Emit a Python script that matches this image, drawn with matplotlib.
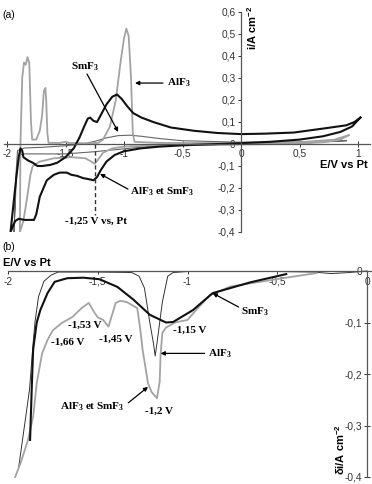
import numpy as np
import matplotlib.pyplot as plt

plt.rcParams['mathtext.fontset'] = 'custom'
plt.rcParams['mathtext.rm'] = 'Liberation Serif:bold'
plt.rcParams['mathtext.sf'] = 'Liberation Sans:bold'

# ---------------- panel (a): cyclic voltammograms ----------------
# AlF3 alone (light grey)
alf3_E = [0.92, 0.85, 0.7, 0.4, 0.0, -0.5, -0.8, -1.0, -1.1, -1.18, -1.22, -1.25, -1.28, -1.33,
          -1.45, -1.6, -1.72, -1.78, -1.8, -1.83, -1.86, -1.89,
          -1.885, -1.87, -1.855, -1.84, -1.825, -1.81, -1.795, -1.785, -1.75, -1.72, -1.70,
          -1.685, -1.672, -1.665, -1.655, -1.645, -1.63, -1.55, -1.5, -1.47, -1.3, -1.22,
          -1.18, -1.12, -1.07, -1.03, -1.0, -0.98, -0.96, -0.94, -0.925, -0.91, -0.7, 0.0,
          0.5, 0.8, 0.92]
alf3_i = [0.04, 0.02, 0.008, 0.0, -0.002, -0.004, -0.008, -0.012, -0.02, -0.04, -0.07, -0.09,
          -0.08, -0.065, -0.06, -0.065, -0.08, -0.10, -0.14, -0.25, -0.35, -0.4,
          0.0, 0.3, 0.37, 0.36, 0.395, 0.37, 0.1, 0.02, 0.02, 0.06, 0.13,
          0.24, 0.255, 0.2, 0.05, 0.005, 0.005, 0.005, 0.01, 0.005, 0.003, 0.005,
          0.02, 0.08, 0.2, 0.37, 0.48, 0.525, 0.49, 0.3, 0.05, 0.01, 0.005, 0.004,
          0.008, 0.02, 0.04]

# SmF3 alone (thin dark grey)
smf3_E = [0.9, 0.5, 0.0, -0.5, -0.8, -1.0, -1.25, -1.5, -1.7, -1.85, -1.9, -1.92, -1.94,
          -1.925, -1.91, -1.85, -1.7, -1.5, -1.35, -1.25, -1.15, -1.05, -0.95, -0.85, -0.7,
          -0.5, 0.0, 0.5, 0.9]
smf3_i = [0.015, 0.003, -0.002, -0.006, -0.012, -0.022, -0.035, -0.045, -0.045, -0.045, -0.05,
          -0.15, -0.4, -0.15, -0.03, -0.018, -0.015, -0.008, 0.0, 0.012, 0.028, 0.038, 0.04,
          0.035, 0.025, 0.015, 0.008, 0.01, 0.015]

# AlF3 + SmF3 (thick black)
mix_E = [1.02, 0.95, 0.85, 0.7, 0.5, 0.25, 0.0, -0.3, -0.5, -0.7, -0.86, -1.0, -1.08, -1.15,
         -1.2, -1.23, -1.26, -1.3, -1.35, -1.4, -1.45, -1.49, -1.55, -1.6, -1.66, -1.72,
         -1.75, -1.77, -1.85, -1.9, -1.93, -1.97,
         -1.95, -1.92, -1.9, -1.885, -1.87, -1.86, -1.82, -1.78, -1.74, -1.7, -1.63, -1.57,
         -1.5, -1.43, -1.38, -1.34, -1.31, -1.29, -1.26, -1.23, -1.2, -1.15, -1.1, -1.06,
         -1.02, -0.97, -0.92, -0.85, -0.75, -0.6, -0.4, -0.2, 0.0, 0.2, 0.45, 0.7, 0.9,
         0.97, 1.02]
mix_i = [0.12, 0.08, 0.055, 0.035, 0.02, 0.01, 0.004, -0.002, -0.006, -0.012, -0.02, -0.033,
         -0.05, -0.08, -0.12, -0.15, -0.165, -0.16, -0.155, -0.145, -0.14, -0.13, -0.13,
         -0.14, -0.165, -0.24, -0.32, -0.345, -0.345, -0.34, -0.35, -0.4,
         -0.3, -0.15, -0.06, -0.02, -0.03, -0.06, -0.075, -0.085, -0.1, -0.1, -0.095,
         -0.085, -0.06, -0.02, 0.03, 0.08, 0.115, 0.12, 0.105, 0.10, 0.13, 0.18, 0.215,
         0.225, 0.205, 0.17, 0.14, 0.12, 0.1, 0.075, 0.06, 0.05, 0.045, 0.047, 0.052, 0.07,
         0.085, 0.1, 0.12]

# ---------------- panel (b): derivative curves ----------------
b_alf3_E = [0.0, -0.1, -0.2, -0.3, -0.5, -0.8, -1.0, -1.08, -1.11, -1.14, -1.17, -1.18, -1.19,
            -1.21, -1.24, -1.27, -1.31, -1.5, -1.72, -1.76, -1.8, -1.83, -1.85, -1.86, -1.88,
            -1.92, -1.94]
b_alf3_i = [0.0, -0.003, -0.005, -0.002, -0.001, -0.001, -0.001, -0.003, -0.01, -0.06, -0.14,
            -0.165, -0.14, -0.1, -0.033, -0.01, -0.003, -0.002, -0.002, -0.008, -0.02, -0.05,
            -0.1, -0.14, -0.23, -0.33, -0.38]

b_smf3_E = [-0.45, -0.65, -0.86, -0.97, -1.08, -1.12, -1.21, -1.30, -1.39, -1.49, -1.58, -1.67,
            -1.74, -1.78, -1.82, -1.84, -1.86, -1.867, -1.877]
b_smf3_i = [-0.006, -0.022, -0.043, -0.076, -0.099, -0.1, -0.085, -0.056, -0.031, -0.016,
            -0.013, -0.014, -0.021, -0.043, -0.076, -0.1, -0.153, -0.22, -0.328]

b_mix_E = [-0.28, -0.47, -0.65, -0.76, -0.875, -0.95, -1.0, -1.07, -1.12, -1.14, -1.15, -1.155,
           -1.17, -1.2, -1.22, -1.25, -1.265, -1.28, -1.34, -1.375, -1.40, -1.44, -1.47, -1.50,
           -1.52, -1.55, -1.59, -1.64, -1.70, -1.75, -1.78, -1.81, -1.84, -1.86, -1.89, -1.93,
           -1.96]
b_mix_i = [-0.004, -0.014, -0.024, -0.03, -0.047, -0.075, -0.095, -0.1, -0.11, -0.12, -0.163,
           -0.215, -0.247, -0.235, -0.218, -0.153, -0.108, -0.072, -0.06, -0.058, -0.062,
           -0.108, -0.095, -0.09, -0.08, -0.062, -0.072, -0.089, -0.101, -0.115, -0.134,
           -0.16, -0.218, -0.283, -0.33, -0.373, -0.4]

a_xticks = [-2, -1.5, -1, -0.5, 0, 0.5, 1]
a_xlabels = ['-2', '-1,5', '-1', '-0,5', '0', '0,5', '1']
a_yticks = [-0.4, -0.3, -0.2, -0.1, 0, 0.1, 0.2, 0.3, 0.4, 0.5, 0.6]
a_ylabels = ['-0,4', '-0,3', '-0,2', '-0,1', '0', '0,1', '0,2', '0,3', '0,4', '0,5', '0,6']
b_xticks = [-2, -1.5, -1, -0.5, 0]
b_xlabels = ['-2', '-1,5', '-1', '-0,5', '0']
b_yticks = [-0.4, -0.3, -0.2, -0.1, 0]
b_ylabels = ['-0,4', '-0,3', '-0,2', '-0,1', '0']

LIGHT = '#a3a3a3'
MID = '#666666'
tick_font = dict(family='Liberation Sans', size=7.3)
ann_font = dict(family='Liberation Serif', weight='bold', size=8)

W, H = 372, 484
fig = plt.figure(figsize=(W / 100, H / 100), dpi=100)

# ----- (a) -----
x0, x1 = -2.03, 1.10
axa = fig.add_axes([3.5 / W, 1 - 232 / H, (369.7 - 3.5) / W, 220 / H])
axa.plot(smf3_E, smf3_i, color=MID, lw=0.8)
axa.plot(alf3_E, alf3_i, color=LIGHT, lw=1.3)
axa.plot(mix_E, mix_i, color='#111111', lw=1.5)
axa.plot([-1.25, -1.25], [0, -0.325], color='#333333', lw=1.0, ls=(0, (3, 2)))
axa.set_xlim(x0, x1)
axa.set_ylim(-0.4, 0.6)
for s in ['top', 'right']:
    axa.spines[s].set_visible(False)
axa.spines['left'].set_position(('data', 0))
axa.spines['bottom'].set_position(('data', 0))
for s in ['left', 'bottom']:
    axa.spines[s].set_color('#555555')
    axa.spines[s].set_linewidth(0.9)
axa.set_xticks(a_xticks)
axa.set_xticklabels(a_xlabels, **tick_font)
axa.set_yticks(a_yticks)
axa.set_yticklabels(a_ylabels, **tick_font)
axa.tick_params(axis='both', length=2.5, width=0.7, pad=1.5, colors='#333333')
axa.tick_params(axis='x', direction='inout', length=4)
axa.patch.set_visible(False)

arrow = dict(arrowstyle='-|>', color='k', lw=0.9, mutation_scale=6, shrinkA=0, shrinkB=0)
axa.text(-1.333, 0.35, 'SmF$_3$', ha='center', va='center', **ann_font)
axa.annotate('', xy=(-1.05, 0.055), xytext=(-1.316, 0.318), arrowprops=arrow)
axa.text(-0.632, 0.277, 'AlF$_3$', ha='left', va='center', **ann_font)
axa.annotate('', xy=(-0.906, 0.277), xytext=(-0.667, 0.277), arrowprops=arrow)
axa.text(-0.949, -0.218, 'AlF$_3$ et SmF$_3$', ha='left', va='center', **ann_font)
axa.annotate('', xy=(-1.205, -0.136), xytext=(-0.966, -0.205), arrowprops=arrow)
axa.text(-1.24, -0.35, '-1,25 V vs, Pt', ha='center', va='center', **ann_font)

# ----- (b) -----
axb = fig.add_axes([8 / W, 1 - 477 / H, (2.02 * 179.5) / W, 206 / H])
axb.plot(b_alf3_E, b_alf3_i, color='#333333', lw=0.7, clip_on=False)
axb.plot(b_mix_E, b_mix_i, color=LIGHT, lw=1.3, clip_on=False)
axb.plot(b_smf3_E, b_smf3_i, color='#111111', lw=1.5, clip_on=False)
axb.set_xlim(-2.0, 0.02)
axb.set_ylim(-0.4, 0.0)
for s in ['top', 'right']:
    axb.spines[s].set_visible(False)
axb.spines['left'].set_position(('data', 0))
axb.spines['bottom'].set_position(('data', 0))
for s in ['left', 'bottom']:
    axb.spines[s].set_color('#555555')
    axb.spines[s].set_linewidth(0.9)
axb.set_xticks(b_xticks)
axb.set_xticklabels(b_xlabels, **tick_font)
axb.set_yticks(b_yticks)
axb.set_yticklabels(b_ylabels, **tick_font)
axb.tick_params(axis='both', length=2.5, width=0.7, pad=1.5, colors='#333333')
axb.tick_params(axis='y', direction='inout', length=4)
axb.patch.set_visible(False)

axb.text(-1.67, -0.138, '-1,66 V', ha='center', va='center', **ann_font)
axb.text(-1.57, -0.105, '-1,53 V', ha='center', va='center', **ann_font)
axb.text(-1.40, -0.132, '-1,45 V', ha='center', va='center', **ann_font)
axb.text(-0.99, -0.115, '-1,15 V', ha='center', va='center', **ann_font)
axb.text(-0.885, -0.16, 'AlF$_3$', ha='left', va='center', **ann_font)
axb.annotate('', xy=(-1.15, -0.16), xytext=(-0.905, -0.16), arrowprops=arrow)
axb.text(-0.70, -0.078, 'SmF$_3$', ha='left', va='center', **ann_font)
axb.annotate('', xy=(-0.86, -0.043), xytext=(-0.715, -0.07), arrowprops=arrow)
axb.text(-1.53, -0.264, 'AlF$_3$ et SmF$_3$', ha='center', va='center', **ann_font)
axb.annotate('', xy=(-1.22, -0.225), xytext=(-1.33, -0.256), arrowprops=arrow)
axb.text(-1.16, -0.272, '-1,2 V', ha='center', va='center', **ann_font)

# axis titles and panel letters
lab_font = dict(family='Liberation Sans', weight='bold', size=8)
fig.text(252 / W, 1 - 28 / H, 'i/A cm$^{\\mathsf{-2}}$', rotation=90, ha='center', va='center', **lab_font)
fig.text(344 / W, 1 - 165 / H, 'E/V vs Pt', ha='center', va='center', **lab_font)
fig.text(3 / W, 1 - 263 / H, 'E/V vs Pt', ha='left', va='center', **lab_font)
fig.text(340 / W, 1 - 450 / H, 'δi/A cm$^{\\mathsf{-2}}$', rotation=90, ha='center', va='center', **lab_font)
fig.text(2 / W, 1 - 15 / H, '(a)', ha='left', va='center', family='Liberation Sans', size=7.5)
fig.text(2 / W, 1 - 247 / H, '(b)', ha='left', va='center', family='Liberation Sans', size=7.5)

fig.savefig('out.png', dpi=100)
